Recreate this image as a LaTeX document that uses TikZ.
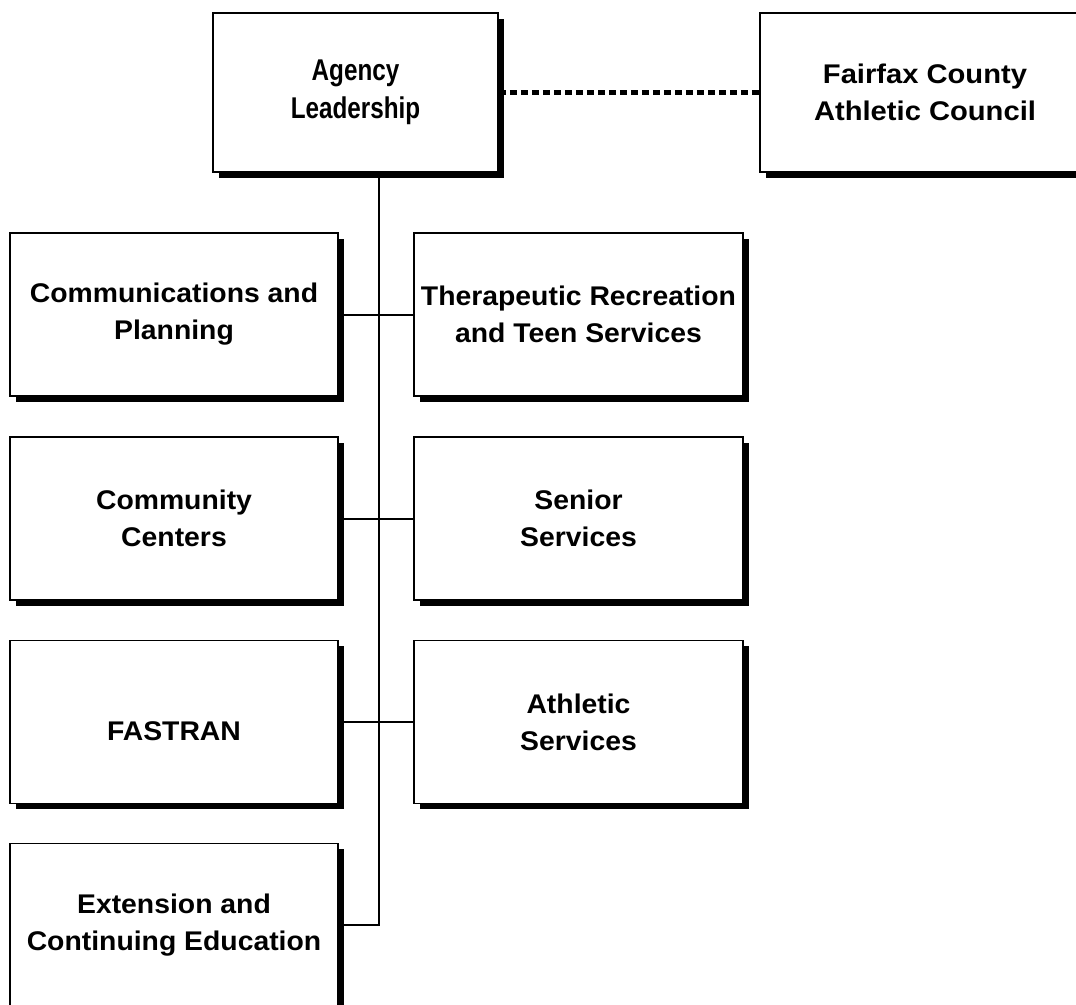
\documentclass[tikz,border=0pt]{standalone}
\usepackage{fontspec}
\usepackage{graphicx}
\setmainfont{Liberation Sans}
\newfontfamily\boxfont[FakeStretch=1.05]{Liberation Sans}
\newfontfamily\widefont[FakeStretch=1.08]{Liberation Sans}
\newcommand{\narrowtxt}[1]{\scalebox{0.77}[1]{#1}}
\usetikzlibrary{shadows}
\begin{document}
\begin{tikzpicture}[x=1pt,y=-1pt,
  orgbox/.style={draw, line width=1.6pt, fill=white, inner sep=0pt, align=center,
    font=\boxfont\fontsize{27}{37}\selectfont\bfseries,
    drop shadow={shadow xshift=5.5pt, shadow yshift=-5.5pt, fill=black, opacity=1}},
  lbox/.style={orgbox, minimum width=328pt, minimum height=163pt},
  rbox/.style={orgbox, minimum width=329pt, minimum height=163pt},
  link/.style={line width=2pt},
  dotlink/.style={line width=4.5pt, dash pattern=on 7pt off 4pt}]
\useasboundingbox (0,0) rectangle (1076,1004);
\node[orgbox, minimum width=285pt, minimum height=159pt,
  font=\boxfont\fontsize{30}{38.5}\selectfont\bfseries] (lead) at (355.5,92.5) {\narrowtxt{Agency}\\\narrowtxt{Leadership}};
\node[orgbox, minimum width=330pt, minimum height=159pt,
  font=\widefont\fontsize{27}{37}\selectfont\bfseries] (fcac) at (925,92.5) {Fairfax County\\Athletic Council};
\node[lbox] (cp) at (174,314.5) {Communications and\\Planning};
\node[lbox] (cc) at (174,518.5) {Community\\Centers};
\node[lbox] (fas) at (174,722) {\mbox{}\\FASTRAN};
\node[lbox] (ext) at (174,925) {Extension and\\Continuing Education};
\node[rbox] (tr) at (578.5,314.5) {Therapeutic Recreation\\and Teen Services};
\node[rbox] (ss) at (578.5,518.5) {Senior\\Services};
\node[rbox] (as) at (578.5,722) {Athletic\\Services};
\coordinate (spine) at (379,0);
\draw[dotlink] (lead.east) -- (fcac.west);
\draw[link] (lead.south -| spine) -- (ext.east -| spine) -- (ext.east);
\draw[link] (cp.east) -- (tr.west);
\draw[link] (cc.east) -- (ss.west);
\draw[link] (fas.east) -- (as.west);
\end{tikzpicture}
\end{document}
